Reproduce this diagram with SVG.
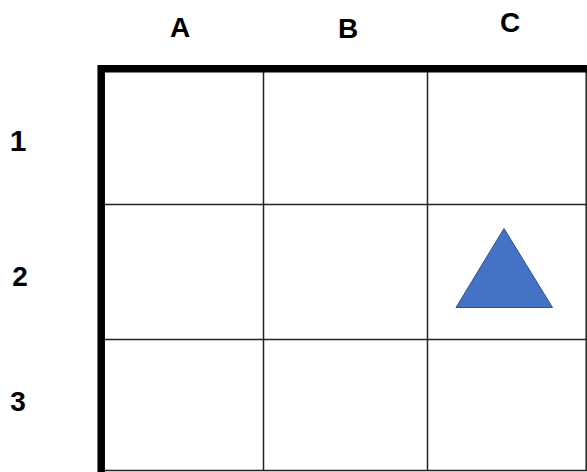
<svg xmlns="http://www.w3.org/2000/svg" width="587" height="472" viewBox="0 0 587 472">
<style>
.lbl{font-family:"Liberation Sans",Arial,sans-serif;font-weight:bold;font-size:28px;fill:#000;text-anchor:middle}
.grid{stroke:#222;stroke-width:1.5;fill:none}
.thick{stroke:#000;stroke-width:7.5;fill:none}
</style>
<rect width="587" height="472" fill="#fff"/>
<g id="col-labels">
<text class="lbl" x="180" y="37">A</text>
<text class="lbl" x="348" y="38">B</text>
<text class="lbl" x="510" y="32">C</text>
</g>
<g id="row-labels">
<text class="lbl" x="18" y="151" style="font-size:30px">1</text>
<text class="lbl" x="20" y="286">2</text>
<text class="lbl" x="18" y="411">3</text>
</g>
<g id="grid">
<line class="grid" x1="263.5" y1="69" x2="263.5" y2="471"/>
<line class="grid" x1="427.5" y1="69" x2="427.5" y2="471"/>
<line class="grid" x1="101" y1="204.5" x2="587" y2="204.5"/>
<line class="grid" x1="101" y1="339.5" x2="587" y2="339.5"/>
<line class="grid" x1="101" y1="470.5" x2="587" y2="470.5"/>
<line class="grid" x1="586.2" y1="69" x2="586.2" y2="471"/>
<path class="thick" d="M101.2 472 V68.8 H587"/>
</g>
<g id="triangle">
<polygon points="504,228.5 456,307.5 552.5,307.5" fill="#4472C4" stroke="#2F528F" stroke-width="1"/>
</g>
</svg>
